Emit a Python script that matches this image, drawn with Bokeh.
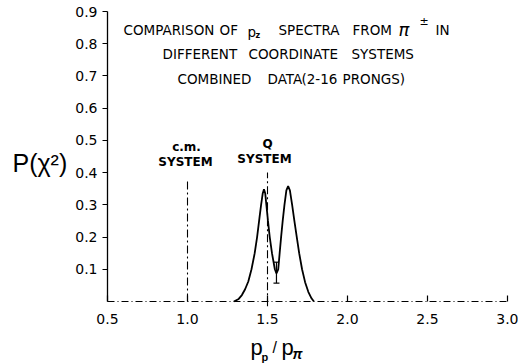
from bokeh.plotting import figure
from bokeh.models import (Label, Whisker, ColumnDataSource, FixedTicker, TeeHead,
                          LinearAxis, NumeralTickFormatter)
from bokeh.embed import file_html
from bokeh.resources import INLINE

# ---- data ----
ratio = [1.29, 1.32, 1.34, 1.36, 1.38, 1.40, 1.42, 1.435, 1.45, 1.46, 1.47, 1.478,
         1.486, 1.493, 1.503, 1.514, 1.528, 1.546, 1.556, 1.567, 1.576, 1.585,
         1.595, 1.606, 1.618, 1.629, 1.640, 1.654, 1.668, 1.683, 1.698, 1.716,
         1.735, 1.755, 1.775, 1.79]
prob = [0.000, 0.008, 0.020, 0.038, 0.062, 0.100, 0.150, 0.200, 0.260, 0.300, 0.335, 0.348,
        0.335, 0.300, 0.250, 0.200, 0.150, 0.100, 0.087, 0.100, 0.150, 0.200,
        0.250, 0.300, 0.345, 0.358, 0.345, 0.300, 0.250, 0.200, 0.150, 0.100,
        0.060, 0.030, 0.010, 0.000]
err_x = [1.556]
err_low = [0.057]
err_high = [0.122]
system_x = [1.0, 1.5]
system_bottom = [0.0, -0.015]
system_top = [0.38, 0.40]
x_ticks = [0.5, 1.0, 1.5, 2.0, 2.5, 3.0]
y_ticks = [0.1, 0.2, 0.3, 0.4, 0.5, 0.6, 0.7, 0.8, 0.9]
x_bounds = (0.5, 3.0)
y_bounds = (0.0, 0.9)

# ---- layout: axes drawn inside a full-canvas frame ----
W, H = 518, 364
AX_L, AX_R, AX_T, AX_B = 107, 507, 11, 301   # pixel positions of the axis box


def X(px):
    return x_bounds[0] + (px - AX_L) * (x_bounds[1] - x_bounds[0]) / (AX_R - AX_L)


def Y(py):
    return y_bounds[0] + (AX_B - py) * (y_bounds[1] - y_bounds[0]) / (AX_B - AX_T)


p = figure(width=W, height=H, x_range=(X(0), X(W)), y_range=(Y(H), Y(0)),
           output_backend="svg", toolbar_location=None,
           x_axis_location=None, y_axis_location=None,
           min_border=0, min_border_left=0, min_border_right=0,
           min_border_top=0, min_border_bottom=0)
p.grid.visible = False
p.outline_line_color = None
p.background_fill_color = "white"
p.border_fill_color = "white"

FONT = "DejaVu Sans"

xa = LinearAxis(fixed_location=y_bounds[0], bounds=x_bounds,
                ticker=FixedTicker(ticks=x_ticks),
                formatter=NumeralTickFormatter(format="0.0"))
xa.major_tick_in = 6
xa.major_tick_out = 0
xa.minor_tick_line_color = None
xa.axis_line_dash = "7 3 1 3"
xa.axis_line_width = 1
xa.major_tick_line_width = 1.2
xa.major_label_text_font = FONT
xa.major_label_text_font_size = "14px"
xa.major_label_text_color = "black"
xa.major_label_standoff = 12
p.add_layout(xa, "below")

ya = LinearAxis(fixed_location=x_bounds[0], bounds=y_bounds,
                ticker=FixedTicker(ticks=y_ticks),
                formatter=NumeralTickFormatter(format="0.0"))
ya.major_tick_in = 0
ya.major_tick_out = 5
ya.minor_tick_line_color = None
ya.axis_line_width = 1.3
ya.major_tick_line_width = 1.2
ya.major_label_text_font = FONT
ya.major_label_text_font_size = "14px"
ya.major_label_text_color = "black"
ya.major_label_standoff = 5
p.add_layout(ya, "left")

# vertical system markers
p.segment(x0=system_x, y0=system_bottom, x1=system_x, y1=system_top,
          line_color="black", line_width=1.1, line_dash="8 3 2 3")

# curve
p.line(ratio, prob, line_color="black", line_width=1.8)

# error bar at the dip
src = ColumnDataSource(dict(x=err_x, lo=err_low, hi=err_high))
p.add_layout(Whisker(base="x", lower="lo", upper="hi", source=src,
                     line_color="black", line_width=1.2,
                     lower_head=TeeHead(size=6, line_color="black", line_width=1.2),
                     upper_head=TeeHead(size=5, line_color="black", line_width=1.2)))


def lab(px, py, text, size, bold=False, italic=False, align="left",
        baseline="middle", font=FONT):
    style = "normal"
    if bold and italic:
        style = "bold italic"
    elif bold:
        style = "bold"
    elif italic:
        style = "italic"
    p.add_layout(Label(x=X(px), y=Y(py), text=text, text_font=font,
                       text_font_size=size, text_font_style=style,
                       text_align=align, text_baseline=baseline,
                       text_color="black"))


# title block
lab(123, 29, "COMPARISON", "13.5px")
lab(219, 29, "OF", "13.5px")
lab(247, 31, "p", "13.5px")
lab(255, 35, "z", "8px", bold=True)
lab(278, 29, "SPECTRA", "13.5px")
lab(352, 29, "FROM", "13.5px")
lab(398, 29, "π", "18px", italic=True)
lab(419, 21, "±", "11px")
lab(435, 29, "IN", "13.5px")

lab(162, 53, "DIFFERENT", "13.5px")
lab(248, 53, "COORDINATE", "13.5px")
lab(351, 53, "SYSTEMS", "13.5px")

lab(177, 78, "COMBINED", "13.5px")
lab(267, 78, "DATA", "13.5px")
lab(301, 78, "(2-16", "13.5px")
lab(342, 78, "PRONGS)", "13.5px")

# system labels
lab(186, 146, "c.m.", "12px", bold=True, align="center")
lab(185, 161, "SYSTEM", "12px", bold=True, align="center")
lab(267, 143, "Q", "12px", bold=True, align="center")
lab(264, 158, "SYSTEM", "12px", bold=True, align="center")

# axis titles
lab(12, 162, "P(χ²)", "25px", font="Liberation Sans")
lab(250, 347, "p", "22px", baseline="alphabetic", font="Liberation Sans")
lab(261, 356, "p", "11px", bold=True, baseline="alphabetic", font="Liberation Sans")
lab(272, 347, "/", "16px", baseline="alphabetic", font="Liberation Sans")
lab(281, 347, "p", "22px", baseline="alphabetic", font="Liberation Sans")
lab(292, 353, "π", "14px", bold=True, italic=True, baseline="alphabetic", font="Liberation Sans")

open("out.html", "w").write(file_html(p, INLINE))
